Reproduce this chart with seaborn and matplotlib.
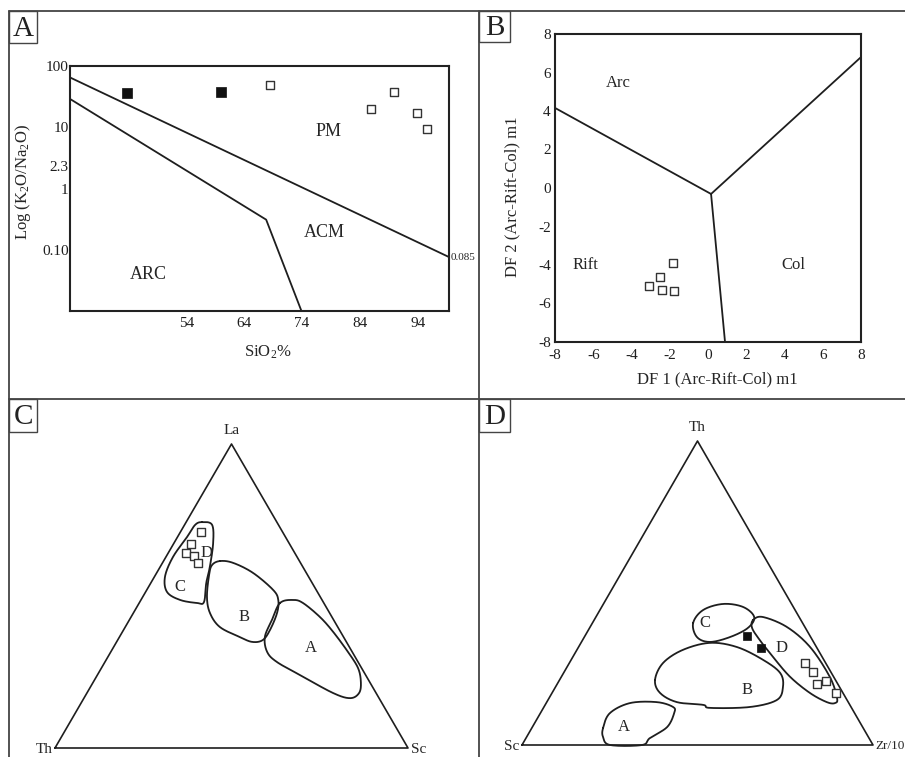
import numpy as np
import matplotlib
matplotlib.use("Agg")
import matplotlib.pyplot as plt
import seaborn as sns
from matplotlib.lines import Line2D
from matplotlib.patches import Rectangle
from matplotlib.ticker import NullLocator

# ---------------- A: K2O/Na2O vs SiO2 (log) ----------------
a_sio2_filled = [43.7, 60.0]
a_ratio_filled = [36.2, 37.7]
a_sio2_open = [68.4, 89.9, 85.9, 93.8, 95.6]
a_ratio_open = [49.0, 37.7, 19.9, 17.1, 9.4]
a_pm_acm_sio2 = [33.9, 99.4]
a_pm_acm_ratio = [65.0, 0.076]
a_acm_arc_sio2 = [33.9, 67.8, 73.9]
a_acm_arc_ratio = [29.0, 0.31, 0.01]
a_xticks = [54, 64, 74, 84, 94]
a_yticks = [100, 10, 2.3, 1, 0.1]
a_yticklabels = ["100", "10", "2.3", "1", "0.10"]
a_fields = ["PM", "ACM", "ARC"]
a_field_sio2 = [78.6, 77.8, 47.4]
a_field_ratio = [8.4, 0.19, 0.04]

# ---------------- B: DF1 vs DF2 ----------------
b_df1 = [-1.83, -2.51, -3.08, -2.41, -1.78]
b_df2 = [-3.9, -4.62, -5.09, -5.3, -5.35]
b_bound_df1 = [[-8, 0.16], [0.16, 8], [0.16, 0.89]]
b_bound_df2 = [[4.16, -0.31], [-0.31, 6.8], [-0.31, -8]]
b_ticks = [-8, -6, -4, -2, 0, 2, 4, 6, 8]
b_fields = ["Arc", "Rift", "Col"]
b_field_df1 = [-4.7, -6.4, 4.45]
b_field_df2 = [5.45, -4.0, -4.0]

# ---------------- C: La - Th - Sc  (La, Th, Sc in %) ----------------
c_samples = [(71, 23, 6), (67, 28, 5), (64, 31, 5), (63, 29, 8), (61, 29, 10)]
c_field_cd = [(74.3, 21.2, 4.5), (73.4, 18.8, 7.8), (67.4, 21.5, 11.1), (59.5, 26.4, 14.1),
              (54.3, 30.0, 15.7), (48.0, 33.8, 18.2), (47.7, 35.9, 16.4), (48.7, 40.2, 11.1),
              (51.3, 42.6, 6.1), (56.3, 40.7, 3.0), (62.8, 35.2, 2.0), (69.4, 27.9, 2.7),
              (73.4, 23.6, 3.0)]
c_field_b = [(61.5, 22.5, 16.0), (60.9, 19.1, 20.0), (57.6, 15.1, 27.3), (52.0, 12.2, 35.8),
             (48.7, 12.4, 38.9), (44.4, 14.9, 40.7), (38.8, 19.7, 41.5), (35.5, 23.4, 41.1),
             (34.9, 26.7, 38.4), (36.5, 29.4, 34.1), (39.8, 33.4, 26.8), (44.4, 33.9, 21.7),
             (49.7, 32.1, 18.2), (56.9, 27.9, 15.2), (60.2, 25.4, 14.4)]
c_field_a = [(47.7, 12.4, 39.9), (48.7, 8.2, 43.1), (47.7, 5.9, 46.4), (43.1, 3.4, 53.5),
             (38.2, 2.1, 59.7), (31.6, 1.2, 67.2), (26.3, 1.0, 72.7), (21.7, 2.5, 75.8),
             (18.1, 4.8, 77.1), (16.4, 8.2, 75.4), (18.1, 12.2, 69.7), (24.0, 18.6, 57.4),
             (28.3, 23.0, 48.7), (31.6, 24.1, 44.3), (36.5, 22.3, 41.2), (42.1, 17.5, 40.4)]
c_labels = ["C", "D", "B", "A"]
c_label_pos = [(53, 38, 9), (64, 25, 11), (43, 25, 32), (33, 11, 56)]

# ---------------- D: Th - Sc - Zr/10  (Th, Sc, Zr/10 in %) ----------------
d_samples_filled = [(36, 18, 46), (32, 16, 52)]
d_samples_open = [(27, 6, 67), (24, 5, 71), (21, 3, 76), (20, 6, 74), (17, 2, 81)]
d_field_c = [(40.1, 31.2, 28.7), (44.4, 26.2, 29.4), (46.4, 19.5, 34.1), (45.4, 14.3, 40.3),
             (42.1, 12.8, 45.1), (38.5, 16.4, 45.1), (35.5, 23.0, 41.5), (33.9, 29.5, 36.6),
             (35.5, 32.4, 32.1)]
d_field_d = [(41.1, 13.6, 45.3), (42.1, 10.3, 47.6), (38.8, 5.1, 56.1), (32.2, 1.8, 66.0),
             (22.4, 1.1, 76.5), (15.5, 2.5, 82.0), (13.8, 3.9, 82.3), (14.1, 6.1, 79.8),
             (17.1, 9.4, 73.5), (22.4, 12.4, 65.2), (28.9, 14.0, 57.1), (34.5, 15.0, 50.5),
             (38.5, 15.2, 46.3)]
d_field_b = [(21.4, 51.4, 27.2), (27.0, 46.3, 26.7), (31.3, 38.5, 30.2), (33.6, 29.6, 36.8),
             (32.2, 22.6, 45.2), (28.0, 17.3, 54.7), (23.7, 14.6, 61.7), (19.1, 16.1, 64.8),
             (14.8, 20.0, 65.2), (12.5, 28.8, 58.7), (12.2, 40.3, 47.5), (13.2, 41.8, 45.0),
             (14.1, 48.8, 37.1), (17.1, 52.1, 30.8)]
d_field_a = [(5.6, 74.1, 20.3), (10.5, 69.7, 19.8), (13.8, 62.3, 23.9), (14.1, 54.5, 31.4),
             (12.5, 50.7, 36.8), (10.5, 51.4, 38.1), (5.9, 55.7, 38.4), (2.3, 62.4, 35.3),
             (0.0, 65.8, 34.2), (0.0, 74.9, 25.1), (2.6, 75.6, 21.8)]
d_labels = ["C", "D", "B", "A"]
d_label_pos = [(40, 28, 32), (32, 10, 58), (18, 27, 55), (6, 68, 26)]

INK = "#1e1e1e"
FRAME = "#444444"
H3 = np.sqrt(3) / 2

sns.set_theme(style="white")
plt.rcParams["font.family"] = ["Liberation Serif", "DejaVu Serif"]
plt.rcParams["mathtext.fontset"] = "custom"
plt.rcParams["mathtext.rm"] = "Liberation Serif"
plt.rcParams["mathtext.it"] = "Liberation Serif:italic"
plt.rcParams["axes.unicode_minus"] = False

W, H = 905, 757
fig = plt.figure(figsize=(W / 100, H / 100), dpi=100)


def px_axes(x0, y0, x1, y1):
    return fig.add_axes([x0 / W, 1 - y1 / H, (x1 - x0) / W, (y1 - y0) / H])


def fig_line(x0, y0, x1, y1):
    fig.add_artist(Line2D([x0 / W, x1 / W], [1 - y0 / H, 1 - y1 / H],
                          transform=fig.transFigure, color=FRAME, lw=1.3))


def panel_tag(letter, x0, y0, x1, y1):
    fig.add_artist(Rectangle((x0 / W, 1 - y1 / H), (x1 - x0) / W, (y1 - y0) / H,
                             transform=fig.transFigure, fc="white", ec=FRAME, lw=1.0))
    fig.text((x0 + x1) / 2 / W, 1 - (y0 + y1) / 2 / H - 0.002, letter,
             ha="center", va="center", fontsize=21, color="#222222")


def tern(points):
    p = np.asarray(points, dtype=float)
    s = p.sum(axis=1)
    top, right = p[:, 0] / s, p[:, 2] / s
    return right + top / 2, top * H3


def closed_curve(x, y, n=24):
    # closed Catmull-Rom spline through the outline points
    P = np.column_stack([x, y])
    m = len(P)
    t = np.linspace(0, 1, n, endpoint=False)[:, None]
    segs = []
    for i in range(m):
        p0, p1, p2, p3 = P[i - 1], P[i], P[(i + 1) % m], P[(i + 2) % m]
        segs.append(0.5 * (2 * p1 + (-p0 + p2) * t
                           + (2 * p0 - 5 * p1 + 4 * p2 - p3) * t ** 2
                           + (-p0 + 3 * p1 - 3 * p2 + p3) * t ** 3))
    segs.append(P[:1])
    c = np.vstack(segs)
    return c[:, 0], c[:, 1]


def ternary_axes(x0, y0, x1, y1, corners, right_size=11):
    ax = px_axes(x0, y0, x1, y1)
    ax.set_xlim(0, 1)
    ax.set_ylim(0, H3)
    ax.axis("off")
    ax.plot([0, 1, 0.5, 0], [0, 0, H3, 0], color=INK, lw=1.2, clip_on=False)
    top, left, right = corners
    ax.annotate(top, (0.5, H3), xytext=(0, 5), textcoords="offset points",
                ha="center", va="bottom", fontsize=11)
    ax.annotate(left, (0, 0), xytext=(-2, -1), textcoords="offset points",
                ha="right", va="center", fontsize=11)
    ax.annotate(right, (1, 0), xytext=(2, -1), textcoords="offset points",
                ha="left", va="center", fontsize=right_size)
    return ax


def open_squares(ax, x, y, s=36):
    sns.scatterplot(x=x, y=y, marker="s", s=s, color="white", edgecolor="#333333",
                    linewidth=1.0, ax=ax, clip_on=False, zorder=5)


def filled_squares(ax, x, y, s=44):
    sns.scatterplot(x=x, y=y, marker="s", s=s, color="#111111", edgecolor="#111111",
                    linewidth=0.5, ax=ax, clip_on=False, zorder=5)


# ---------------- frame ----------------
fig_line(9, 11, 905, 11)
fig_line(9, 11, 9, 757)
fig_line(479, 11, 479, 757)
fig_line(9, 399, 905, 399)

# ---------------- Panel A ----------------
axA = px_axes(70, 66, 449, 311)
sns.lineplot(x=a_pm_acm_sio2, y=a_pm_acm_ratio, sort=False, estimator=None,
             color=INK, lw=1.3, ax=axA)
sns.lineplot(x=a_acm_arc_sio2, y=a_acm_arc_ratio, sort=False, estimator=None,
             color=INK, lw=1.3, ax=axA)
filled_squares(axA, a_sio2_filled, a_ratio_filled)
open_squares(axA, a_sio2_open, a_ratio_open)
axA.set_yscale("log")
axA.set_xlim(33.9, 99.4)
axA.set_ylim(0.01, 100)
axA.set_xticks(a_xticks)
axA.set_yticks(a_yticks)
axA.set_yticklabels(a_yticklabels)
axA.yaxis.set_minor_locator(NullLocator())
axA.tick_params(direction="in", length=5, width=1, labelsize=11, colors=INK)
axA.tick_params(axis="y", pad=1)
axA.tick_params(axis="x", pad=4)
for sp in axA.spines.values():
    sp.set_linewidth(1.5)
    sp.set_color("#222222")
for name, x, y in zip(a_fields, a_field_sio2, a_field_ratio):
    axA.text(x, y, name, ha="center", va="center", fontsize=13)
axA.text(1.004, a_pm_acm_ratio[-1], "0.085", transform=axA.get_yaxis_transform(),
         ha="left", va="center", fontsize=8)
axA.set_xlabel("SiO$_2$%", fontsize=12, va="center")
axA.xaxis.set_label_coords(0.522, -0.167)
axA.set_ylabel("Log (K$_2$O/Na$_2$O)", fontsize=12, va="center")
axA.yaxis.set_label_coords(-0.124, 0.527)

# ---------------- Panel B ----------------
axB = px_axes(555, 34, 861, 342)
for xs, ys in zip(b_bound_df1, b_bound_df2):
    sns.lineplot(x=xs, y=ys, sort=False, estimator=None, color=INK, lw=1.3, ax=axB)
open_squares(axB, b_df1, b_df2)
axB.set_xlim(-8, 8)
axB.set_ylim(-8, 8)
axB.set_xticks(b_ticks)
axB.set_yticks(b_ticks)
axB.tick_params(length=0, labelsize=11, colors=INK)
axB.tick_params(axis="y", pad=3)
axB.tick_params(axis="x", pad=5)
for sp in axB.spines.values():
    sp.set_linewidth(1.5)
    sp.set_color("#222222")
for name, x, y in zip(b_fields, b_field_df1, b_field_df2):
    axB.text(x, y, name, ha="center", va="center", fontsize=12)
axB.set_xlabel("DF 1 (Arc-Rift-Col) m1", fontsize=12, va="center")
axB.xaxis.set_label_coords(0.53, -0.12)
axB.set_ylabel("DF 2 (Arc-Rift-Col) m1", fontsize=12, va="center")
axB.yaxis.set_label_coords(-0.14, 0.47)

# ---------------- Panel C ----------------
axC = ternary_axes(55, 444, 408, 748, ("La", "Th", "Sc"))
for field in (c_field_cd, c_field_b, c_field_a):
    fx, fy = closed_curve(*tern(field))
    axC.plot(fx, fy, color=INK, lw=1.3, clip_on=False)
sx, sy = tern(c_samples)
open_squares(axC, sx, sy, s=30)
lx, ly = tern(c_label_pos)
for name, x, y in zip(c_labels, lx, ly):
    axC.text(x, y, name, ha="center", va="center", fontsize=12)

# ---------------- Panel D ----------------
axD = ternary_axes(522, 441, 873, 745, ("Th", "Sc", "Zr/10"), right_size=9.5)
for field in (d_field_c, d_field_d, d_field_b, d_field_a):
    fx, fy = closed_curve(*tern(field))
    axD.plot(fx, fy, color=INK, lw=1.3, clip_on=False)
fx_, fy_ = tern(d_samples_filled)
filled_squares(axD, fx_, fy_, s=36)
ox, oy = tern(d_samples_open)
open_squares(axD, ox, oy, s=30)
lx, ly = tern(d_label_pos)
for name, x, y in zip(d_labels, lx, ly):
    axD.text(x, y, name, ha="center", va="center", fontsize=12)

# panel tags
panel_tag("A", 9, 11, 37, 43)
panel_tag("B", 479, 11, 510, 42)
panel_tag("C", 9, 399, 37, 432)
panel_tag("D", 479, 399, 510, 432)

fig.savefig("out.png", dpi=100, facecolor="white")
